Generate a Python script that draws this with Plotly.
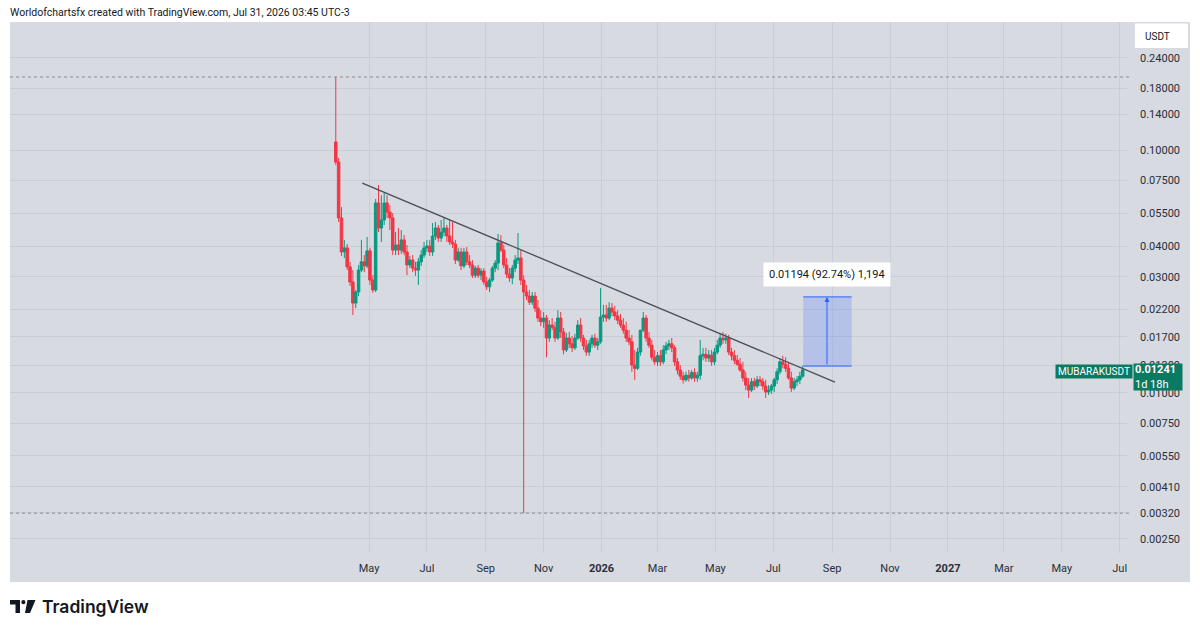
import math
import pandas as pd
import plotly.graph_objects as go

# ---------------- data ----------------
start_date = "2025-03-27"
bar_step = "3D"

opens = [
    0.1079, 0.0892, 0.0525, 0.0380, 0.0395, 0.0330, 0.0286, 0.0234, 0.0260, 0.0320,
    0.0346, 0.0333, 0.0384, 0.0291, 0.0265, 0.0605, 0.0477, 0.0515, 0.0605, 0.0555,
    0.0525, 0.0387, 0.0406, 0.0387, 0.0426, 0.0380, 0.0336, 0.0352, 0.0326, 0.0320,
    0.0346, 0.0369, 0.0395, 0.0402, 0.0380, 0.0442, 0.0477, 0.0434, 0.0459, 0.0477,
    0.0442, 0.0418, 0.0410, 0.0352, 0.0380, 0.0333, 0.0380, 0.0346, 0.0336, 0.0305,
    0.0326, 0.0305, 0.0317, 0.0286, 0.0273, 0.0291, 0.0326, 0.0342, 0.0414, 0.0387,
    0.0336, 0.0308, 0.0297, 0.0326, 0.0352, 0.0359, 0.0291, 0.0260, 0.0250, 0.0236,
    0.0250, 0.0223, 0.0203, 0.0196, 0.0203, 0.0168, 0.0190, 0.0186, 0.0168, 0.0203,
    0.0178, 0.0150, 0.0168, 0.0159, 0.0153, 0.0168, 0.0190, 0.0168, 0.0156, 0.0147,
    0.0159, 0.0168, 0.0157, 0.0162, 0.0205, 0.0209, 0.0203, 0.0223, 0.0215, 0.0207,
    0.0199, 0.0190, 0.0181, 0.0168, 0.0162, 0.0130, 0.0126, 0.0147, 0.0181, 0.0203,
    0.0168, 0.0157, 0.0140, 0.0134, 0.0142, 0.0134, 0.0150, 0.0156, 0.0159, 0.0153,
    0.0134, 0.0124, 0.0117, 0.0113, 0.0118, 0.0115, 0.0121, 0.0115, 0.0118, 0.0142,
    0.0144, 0.0139, 0.0143, 0.0134, 0.0147, 0.0157, 0.0168, 0.0165, 0.0168, 0.0147,
    0.0142, 0.0136, 0.0131, 0.0124, 0.0115, 0.01075, 0.01025, 0.0111, 0.01065, 0.0113,
    0.0111, 0.01065, 0.01006, 0.01025, 0.01065, 0.0113, 0.0122, 0.0134, 0.0131, 0.0126,
    0.0115, 0.01045, 0.0111, 0.0113, 0.0117,
]
highs = [
    0.1999, 0.0927, 0.0582, 0.0426, 0.0410, 0.0346, 0.0320, 0.0265, 0.0336, 0.0426,
    0.0369, 0.0438, 0.0395, 0.0305, 0.0628, 0.0717, 0.0652, 0.0665, 0.0652, 0.0593,
    0.0550, 0.0459, 0.0477, 0.0468, 0.0446, 0.0406, 0.0366, 0.0369, 0.0346, 0.0359,
    0.0387, 0.0418, 0.0426, 0.0426, 0.0500, 0.0505, 0.0491, 0.0515, 0.0525, 0.0491,
    0.0515, 0.0505, 0.0426, 0.0395, 0.0395, 0.0395, 0.0398, 0.0369, 0.0352, 0.0333,
    0.0336, 0.0326, 0.0326, 0.0300, 0.0297, 0.0333, 0.0352, 0.0451, 0.0446, 0.0406,
    0.0359, 0.0326, 0.0336, 0.0369, 0.0455, 0.0387, 0.0305, 0.0278, 0.0265, 0.0260,
    0.0260, 0.0241, 0.0219, 0.0215, 0.0209, 0.0199, 0.0203, 0.0196, 0.0219, 0.0215,
    0.0185, 0.0176, 0.0178, 0.0171, 0.0175, 0.0199, 0.0203, 0.0173, 0.0165, 0.0165,
    0.0173, 0.0175, 0.0168, 0.0270, 0.0230, 0.0230, 0.0236, 0.0234, 0.0228, 0.0219,
    0.0211, 0.0203, 0.0196, 0.0181, 0.0173, 0.0150, 0.0153, 0.0181, 0.0215, 0.0209,
    0.0178, 0.0165, 0.0150, 0.0147, 0.0150, 0.0157, 0.0162, 0.0165, 0.0168, 0.0157,
    0.0139, 0.0130, 0.0122, 0.0122, 0.0124, 0.0124, 0.0126, 0.0122, 0.0165, 0.0153,
    0.0153, 0.0150, 0.0150, 0.0153, 0.0165, 0.0176, 0.0178, 0.0175, 0.0173, 0.0153,
    0.0150, 0.0143, 0.0139, 0.0134, 0.0122, 0.0115, 0.0115, 0.0115, 0.0117, 0.0117,
    0.0115, 0.0113, 0.01075, 0.01085, 0.0115, 0.0126, 0.0139, 0.0142, 0.0140, 0.0134,
    0.0122, 0.0115, 0.0117, 0.0122, 0.0129,
]
lows = [
    0.0867, 0.0505, 0.0366, 0.0359, 0.0320, 0.0275, 0.0209, 0.0223, 0.0250, 0.0314,
    0.0314, 0.0326, 0.0278, 0.0258, 0.0260, 0.0459, 0.0418, 0.0491, 0.0525, 0.0468,
    0.0369, 0.0369, 0.0369, 0.0373, 0.0369, 0.0305, 0.0326, 0.0314, 0.0303, 0.0278,
    0.0333, 0.0359, 0.0380, 0.0366, 0.0366, 0.0426, 0.0418, 0.0418, 0.0442, 0.0418,
    0.0406, 0.0395, 0.0339, 0.0346, 0.0320, 0.0326, 0.0336, 0.0326, 0.0297, 0.0297,
    0.0297, 0.0291, 0.0278, 0.0265, 0.0260, 0.0286, 0.0314, 0.0320, 0.0380, 0.0326,
    0.0297, 0.0286, 0.0280, 0.0314, 0.0339, 0.0278, 0.00319, 0.0241, 0.0230, 0.0230,
    0.0215, 0.0196, 0.0188, 0.0185, 0.0140, 0.0162, 0.0181, 0.0162, 0.0165, 0.0168,
    0.0144, 0.0147, 0.0153, 0.0147, 0.0150, 0.0165, 0.0162, 0.0150, 0.0142, 0.0142,
    0.0153, 0.0153, 0.0150, 0.0159, 0.0196, 0.0196, 0.0199, 0.0207, 0.0199, 0.0192,
    0.0185, 0.0175, 0.0162, 0.0157, 0.0122, 0.0113, 0.0124, 0.0142, 0.0178, 0.0162,
    0.0153, 0.0136, 0.0130, 0.0129, 0.0129, 0.0131, 0.0144, 0.0150, 0.0147, 0.0129,
    0.0119, 0.0113, 0.0109, 0.0111, 0.0111, 0.0113, 0.0111, 0.0111, 0.0113, 0.0136,
    0.0134, 0.0134, 0.0129, 0.0130, 0.0144, 0.0153, 0.0159, 0.0159, 0.0143, 0.0136,
    0.0131, 0.0129, 0.0122, 0.0111, 0.01025, 0.00951, 0.01006, 0.01025, 0.01045, 0.01065,
    0.01025, 0.00951, 0.00978, 0.00987, 0.01006, 0.01085, 0.0119, 0.0126, 0.0122, 0.0113,
    0.01006, 0.01025, 0.01065, 0.01085, 0.0115,
]
closes = [
    0.0892, 0.0525, 0.0380, 0.0395, 0.0330, 0.0286, 0.0234, 0.0260, 0.0320, 0.0346,
    0.0333, 0.0384, 0.0291, 0.0265, 0.0605, 0.0477, 0.0515, 0.0605, 0.0555, 0.0525,
    0.0387, 0.0406, 0.0387, 0.0426, 0.0380, 0.0336, 0.0352, 0.0326, 0.0320, 0.0346,
    0.0369, 0.0395, 0.0402, 0.0380, 0.0442, 0.0477, 0.0434, 0.0459, 0.0477, 0.0442,
    0.0418, 0.0410, 0.0352, 0.0380, 0.0333, 0.0380, 0.0346, 0.0336, 0.0305, 0.0326,
    0.0305, 0.0317, 0.0286, 0.0273, 0.0291, 0.0326, 0.0342, 0.0414, 0.0387, 0.0336,
    0.0308, 0.0297, 0.0326, 0.0352, 0.0359, 0.0291, 0.0260, 0.0250, 0.0236, 0.0250,
    0.0223, 0.0203, 0.0196, 0.0203, 0.0168, 0.0190, 0.0186, 0.0168, 0.0203, 0.0178,
    0.0150, 0.0168, 0.0159, 0.0153, 0.0168, 0.0190, 0.0168, 0.0156, 0.0147, 0.0159,
    0.0168, 0.0157, 0.0162, 0.0205, 0.0209, 0.0203, 0.0223, 0.0215, 0.0207, 0.0199,
    0.0190, 0.0181, 0.0168, 0.0162, 0.0130, 0.0126, 0.0147, 0.0181, 0.0203, 0.0168,
    0.0157, 0.0140, 0.0134, 0.0142, 0.0134, 0.0150, 0.0156, 0.0159, 0.0153, 0.0134,
    0.0124, 0.0117, 0.0113, 0.0118, 0.0115, 0.0121, 0.0115, 0.0118, 0.0142, 0.0144,
    0.0139, 0.0143, 0.0134, 0.0147, 0.0157, 0.0168, 0.0165, 0.0168, 0.0147, 0.0142,
    0.0136, 0.0131, 0.0124, 0.0115, 0.01075, 0.01025, 0.0111, 0.01065, 0.0113, 0.0111,
    0.01065, 0.01006, 0.01025, 0.01065, 0.0113, 0.0122, 0.0134, 0.0131, 0.0126, 0.0115,
    0.01045, 0.0111, 0.0113, 0.0117, 0.01241,
]

y_tick_vals = [0.24, 0.18, 0.14, 0.10, 0.075, 0.055, 0.04, 0.03, 0.022, 0.017,
               0.013, 0.01, 0.0075, 0.0055, 0.0041, 0.0032, 0.0025]
y_tick_text = ["0.24000", "0.18000", "0.14000", "0.10000", "0.07500", "0.05500",
               "0.04000", "0.03000", "0.02200", "0.01700", "0.01300", "0.01000",
               "0.00750", "0.00550", "0.00410", "0.00320", "0.00250"]
x_tick_vals = ["2025-05-01", "2025-07-01", "2025-09-01", "2025-11-01", "2026-01-01",
               "2026-03-01", "2026-05-01", "2026-07-01", "2026-09-01", "2026-11-01",
               "2027-01-01", "2027-03-01", "2027-05-01", "2027-07-01"]
x_tick_text = ["May", "Jul", "Sep", "Nov", "<b>2026</b>", "Mar", "May", "Jul", "Sep",
               "Nov", "<b>2027</b>", "Mar", "May", "Jul"]

trend_dates = ["2025-04-24", "2026-09-04"]
trend_prices = [0.0731, 0.01106]

measure_dates = ["2026-08-01 14:00", "2026-09-21 14:00"]
measure_mid = "2026-08-26 14:00"
measure_base = 0.012875
measure_top = 0.024815
measure_label = "0.01194 (92.74%) 1,194"

symbol = "MUBARAKUSDT"
last_price_text = "0.01241"
countdown = "1d 18h"
currency = "USDT"
header = "Worldofchartsfx created with TradingView.com, Jul 31, 2026 03:45 UTC-3"
brand = "TradingView"

x_range = ["2024-04-17 17:00", "2027-07-08 17:00"]
y_range_log = [-2.6605, -0.4726]

# ---------------- styling ----------------
UP = "#089981"
DOWN = "#f23645"
BG = "#d7dae1"
GRID = "rgba(190,195,205,0.55)"
TXT = "#131722"
FONT = "Roboto"
LABEL_GREEN = "#0b7a63"

L, T, W, H = 10, 22, 1117, 531  # plot area in pixels


def px(x):
    return (x - L) / W


def py(y):
    return (T + H - y) / H


dates = pd.date_range(start_date, periods=len(closes), freq=bar_step)

fig = go.Figure()
fig.add_trace(go.Candlestick(
    x=dates, open=opens, high=highs, low=lows, close=closes,
    increasing=dict(line=dict(color=UP, width=1), fillcolor=UP),
    decreasing=dict(line=dict(color=DOWN, width=1), fillcolor=DOWN),
    whiskerwidth=0, showlegend=False, hoverinfo="skip",
))
fig.add_trace(go.Scatter(
    x=trend_dates, y=trend_prices, mode="lines",
    line=dict(color="#4a4d57", width=1.3), showlegend=False, hoverinfo="skip",
))

shapes = []
# chart frame background
shapes.append(dict(type="rect", xref="paper", yref="paper", x0=px(10), x1=px(1190),
                   y0=py(582), y1=py(22), fillcolor=BG, line=dict(width=0), layer="below"))
# high / low dotted lines
for lvl in (max(highs), min(lows)):
    shapes.append(dict(type="line", xref="paper", yref="y", x0=0, x1=1.004, y0=lvl, y1=lvl,
                       line=dict(color="#8a8d96", width=1, dash="dot"), layer="above"))
# measure box
shapes.append(dict(type="rect", xref="x", yref="y", x0=measure_dates[0], x1=measure_dates[1],
                   y0=measure_base, y1=measure_top, fillcolor="rgba(41,98,255,0.20)",
                   line=dict(width=0), layer="above"))
for lvl in (measure_base, measure_top):
    shapes.append(dict(type="line", xref="x", yref="y", x0=measure_dates[0], x1=measure_dates[1],
                       y0=lvl, y1=lvl, line=dict(color="#2962ff", width=1), layer="above"))
# USDT box
shapes.append(dict(type="rect", xref="paper", yref="paper", x0=px(1135), x1=px(1188),
                   y0=py(48), y1=py(23.5), fillcolor="white", line=dict(width=0)))


# TradingView logo mark
def pth(points):
    s = "M " + " L ".join(f"{px(a):.5f},{py(b):.5f}" for a, b in points) + " Z"
    return s


shapes.append(dict(type="path", xref="paper", yref="paper",
                   path=pth([(10, 600), (20, 600), (20, 613), (15.5, 613), (15.5, 604.6), (10, 604.6)]),
                   fillcolor=TXT, line=dict(width=0)))
shapes.append(dict(type="circle", xref="paper", yref="paper",
                   x0=px(21.3), x1=px(25.5), y0=py(604.3), y1=py(600.1),
                   fillcolor=TXT, line=dict(width=0)))
shapes.append(dict(type="path", xref="paper", yref="paper",
                   path=pth([(27.5, 600), (35.5, 600), (30, 613), (25, 613)]),
                   fillcolor=TXT, line=dict(width=0)))

last = closes[-1]
annotations = []
annotations.append(dict(xref="paper", yref="paper", x=px(8), y=py(12.5), xanchor="left",
                        yanchor="middle", text=header, showarrow=False,
                        font=dict(size=10.5, color=TXT, family=FONT)))
annotations.append(dict(xref="paper", yref="paper", x=px(1143), y=py(36), xanchor="left",
                        yanchor="middle", text=currency, showarrow=False,
                        font=dict(size=10, color=TXT, family=FONT)))
# last price labels
annotations.append(dict(xref="paper", yref="y", x=px(1133), y=math.log10(last), yshift=-2,
                        xanchor="right", yanchor="middle", text=symbol, showarrow=False,
                        bgcolor=LABEL_GREEN, width=74, height=11, borderpad=1,
                        font=dict(size=10, color="white", family=FONT)))
annotations.append(dict(xref="paper", yref="y", x=px(1133), y=math.log10(last), yshift=-7,
                        xanchor="left", yanchor="middle",
                        text="<b>" + last_price_text + "</b><br>" + countdown,
                        align="left", showarrow=False, bgcolor=LABEL_GREEN,
                        width=46, height=24, borderpad=1,
                        font=dict(size=11, color="white", family=FONT)))
# measure arrow
annotations.append(dict(xref="x", yref="y", x=measure_mid, y=math.log10(measure_top),
                        axref="x", ayref="y", ax=measure_mid, ay=math.log10(measure_base),
                        showarrow=True, arrowhead=2, arrowsize=1, arrowwidth=1,
                        arrowcolor="#2962ff", text=""))
# measure label
annotations.append(dict(xref="x", yref="y", x=measure_mid, y=math.log10(measure_top),
                        yshift=10, xanchor="center", yanchor="bottom", text=measure_label,
                        showarrow=False, bgcolor="white", borderpad=5,
                        font=dict(size=11, color=TXT, family=FONT)))
# brand
annotations.append(dict(xref="paper", yref="paper", x=px(40), y=py(606.5), xanchor="left",
                        yanchor="middle", text=brand, showarrow=False,
                        font=dict(size=17.5, color=TXT, family="Inter", weight=600)))

fig.update_layout(
    width=1200, height=632,
    margin=dict(l=L, r=1200 - L - W, t=T, b=632 - T - H),
    paper_bgcolor="white", plot_bgcolor="rgba(0,0,0,0)",
    font=dict(family=FONT, size=11, color=TXT),
    showlegend=False, boxgap=0.12, boxgroupgap=0,
    shapes=shapes, annotations=annotations,
    xaxis=dict(
        type="date", range=x_range, rangeslider=dict(visible=False),
        tickmode="array", tickvals=x_tick_vals, ticktext=x_tick_text,
        showgrid=True, gridcolor=GRID, gridwidth=1, zeroline=False,
        showline=False, ticks="", ticklabelstandoff=7,
        tickfont=dict(size=11, color="#2a2e39", family=FONT),
        fixedrange=True,
    ),
    yaxis=dict(
        type="log", range=y_range_log, side="right",
        tickmode="array", tickvals=y_tick_vals, ticktext=y_tick_text,
        showgrid=True, gridcolor=GRID, gridwidth=1, zeroline=False,
        showline=False, ticks="", ticklabelstandoff=12,
        tickfont=dict(size=11, color="#2a2e39", family=FONT),
        automargin=False, fixedrange=True,
    ),
)

fig.write_html("out.html", config={"displayModeBar": False})
